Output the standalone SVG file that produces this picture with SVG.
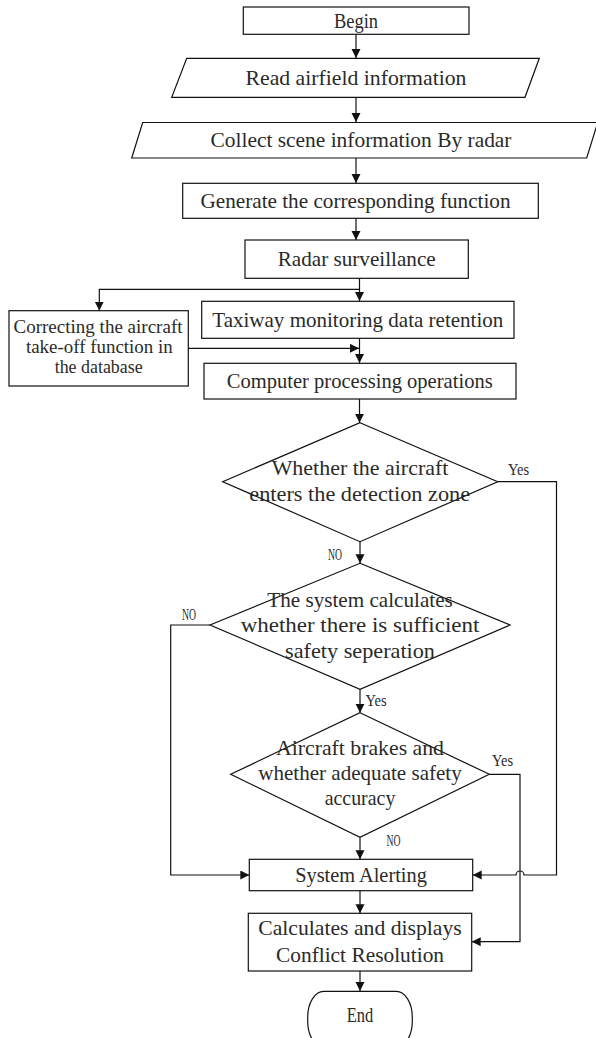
<svg xmlns="http://www.w3.org/2000/svg" width="596" height="1038" viewBox="0 0 596 1038">
<style>
.s{fill:#fff;stroke:#111;stroke-width:1.2}
.c{fill:none;stroke:#111;stroke-width:1.2}
text{font-family:"Liberation Serif",serif;fill:#2a2a2a;text-anchor:middle}
.t{font-size:21px}
.m{font-size:18px}
.l{font-size:17px}
</style>
<defs>
<marker id="a" markerUnits="userSpaceOnUse" markerWidth="10" markerHeight="10" refX="9" refY="4.5" orient="auto"><path d="M0,0 L9,4.5 L0,9 Z" fill="#111"/></marker>
</defs>
<rect width="596" height="1038" fill="#fff"/>
<g id="connectors">
<path class="c" d="M356,34 V58" marker-end="url(#a)"/>
<path class="c" d="M356,97 V122" marker-end="url(#a)"/>
<path class="c" d="M356,158 V183" marker-end="url(#a)"/>
<path class="c" d="M356,218 V240" marker-end="url(#a)"/>
<path class="c" d="M359.5,278 V301" marker-end="url(#a)"/>
<path class="c" d="M359.5,289.3 H99.3 V310.7" marker-end="url(#a)"/>
<path class="c" d="M359.5,338 V363" marker-end="url(#a)"/>
<path class="c" d="M188.3,348.3 H359" marker-end="url(#a)"/>
<path class="c" d="M359.5,399 V422.7" marker-end="url(#a)"/>
<path class="c" d="M360,541.7 V563.3" marker-end="url(#a)"/>
<path class="c" d="M497.7,481.7 H556.5 V875 H524 A4,4 0 0 0 516,875 H472.7" marker-end="url(#a)"/>
<path class="c" d="M210,625 H170.7 V875 H249.3" marker-end="url(#a)"/>
<path class="c" d="M360,689.3 V712.7" marker-end="url(#a)"/>
<path class="c" d="M489.3,774.3 H520 V941.7 H471.7" marker-end="url(#a)"/>
<path class="c" d="M360,837.3 V859.3" marker-end="url(#a)"/>
<path class="c" d="M360,890.7 V913.3" marker-end="url(#a)"/>
<path class="c" d="M360,971 V991" marker-end="url(#a)"/>
<text class="l" x="518.5" y="475" textLength="21" lengthAdjust="spacingAndGlyphs">Yes</text>
<text class="l" x="335" y="560" textLength="14" lengthAdjust="spacingAndGlyphs">NO</text>
<text class="l" x="189" y="620" textLength="14" lengthAdjust="spacingAndGlyphs">NO</text>
<text class="l" x="376" y="706" textLength="21" lengthAdjust="spacingAndGlyphs">Yes</text>
<text class="l" x="502.5" y="766" textLength="21" lengthAdjust="spacingAndGlyphs">Yes</text>
<text class="l" x="393.5" y="846" textLength="14" lengthAdjust="spacingAndGlyphs">NO</text>
</g>
<g id="begin">
<rect class="s" x="243.3" y="7" width="225.7" height="27.3"/>
<text class="t" x="356" y="27.5" textLength="44" lengthAdjust="spacingAndGlyphs">Begin</text>
</g>
<g id="read">
<path class="s" d="M186.7,58.3 H539.3 L525,97.3 H171.7 Z"/>
<text class="t" x="356" y="85" textLength="221" lengthAdjust="spacingAndGlyphs">Read airfield information</text>
</g>
<g id="collect">
<path class="s" d="M142.7,122.5 H597.7 L586.7,158 H131.7 Z"/>
<text class="t" x="361" y="147" textLength="301" lengthAdjust="spacingAndGlyphs">Collect scene information By radar</text>
</g>
<g id="generate">
<rect class="s" x="182.7" y="183.3" width="355.6" height="35"/>
<text class="t" x="355.5" y="208" textLength="310" lengthAdjust="spacingAndGlyphs">Generate the corresponding function</text>
</g>
<g id="radar">
<rect class="s" x="245" y="240" width="223.3" height="38.3"/>
<text class="t" x="356.7" y="266" textLength="158" lengthAdjust="spacingAndGlyphs">Radar surveillance</text>
</g>
<g id="correcting">
<rect class="s" x="9" y="310.7" width="179.3" height="75.3"/>
<text class="m" x="98" y="332.7" textLength="169" lengthAdjust="spacingAndGlyphs">Correcting the aircraft</text>
<text class="m" x="99.3" y="353" textLength="146.7" lengthAdjust="spacingAndGlyphs">take-off function in</text>
<text class="m" x="98.7" y="373" textLength="88" lengthAdjust="spacingAndGlyphs">the database</text>
</g>
<g id="taxiway">
<rect class="s" x="201.7" y="301.3" width="312.3" height="37"/>
<text class="t" x="357.8" y="327" textLength="291" lengthAdjust="spacingAndGlyphs">Taxiway monitoring data retention</text>
</g>
<g id="computer">
<rect class="s" x="204" y="363.3" width="312" height="35.7"/>
<text class="t" x="359.7" y="388" textLength="266" lengthAdjust="spacingAndGlyphs">Computer processing operations</text>
</g>
<g id="d1">
<path class="s" d="M360,422.7 L497.7,481.7 L360,541.7 L222.7,481.7 Z"/>
<text class="t" x="360" y="475" textLength="176.7" lengthAdjust="spacingAndGlyphs">Whether the aircraft</text>
<text class="t" x="359.7" y="500.7" textLength="220.7" lengthAdjust="spacingAndGlyphs">enters the detection zone</text>
</g>
<g id="d2">
<path class="s" d="M360,563.3 L510,625 L360,689.3 L210,625 Z"/>
<text class="t" x="360" y="606.7" textLength="185.5" lengthAdjust="spacingAndGlyphs">The system calculates</text>
<text class="t" x="360" y="631.7" textLength="238.7" lengthAdjust="spacingAndGlyphs">whether there is sufficient</text>
<text class="t" x="360" y="658.3" textLength="150" lengthAdjust="spacingAndGlyphs">safety seperation</text>
</g>
<g id="d3">
<path class="s" d="M360,712.7 L489.3,774.3 L360,837.3 L230.7,774.3 Z"/>
<text class="t" x="360" y="755" textLength="168" lengthAdjust="spacingAndGlyphs">Aircraft brakes and</text>
<text class="t" x="360" y="780" textLength="203.5" lengthAdjust="spacingAndGlyphs">whether adequate safety</text>
<text class="t" x="360" y="805" textLength="70.7" lengthAdjust="spacingAndGlyphs">accuracy</text>
</g>
<g id="alerting">
<rect class="s" x="249.3" y="859.3" width="223.4" height="31.4"/>
<text class="t" x="361" y="882" textLength="131.7" lengthAdjust="spacingAndGlyphs">System Alerting</text>
</g>
<g id="calculates">
<rect class="s" x="248.3" y="913.3" width="223.4" height="57.7"/>
<text class="t" x="360" y="935" textLength="203.5" lengthAdjust="spacingAndGlyphs">Calculates and displays</text>
<text class="t" x="360" y="961.7" textLength="168" lengthAdjust="spacingAndGlyphs">Conflict Resolution</text>
</g>
<g id="end">
<rect class="s" x="307.7" y="991.3" width="104.6" height="56" rx="16" ry="26"/>
<text class="t" x="360" y="1021.5" textLength="26.5" lengthAdjust="spacingAndGlyphs">End</text>
</g>
</svg>
